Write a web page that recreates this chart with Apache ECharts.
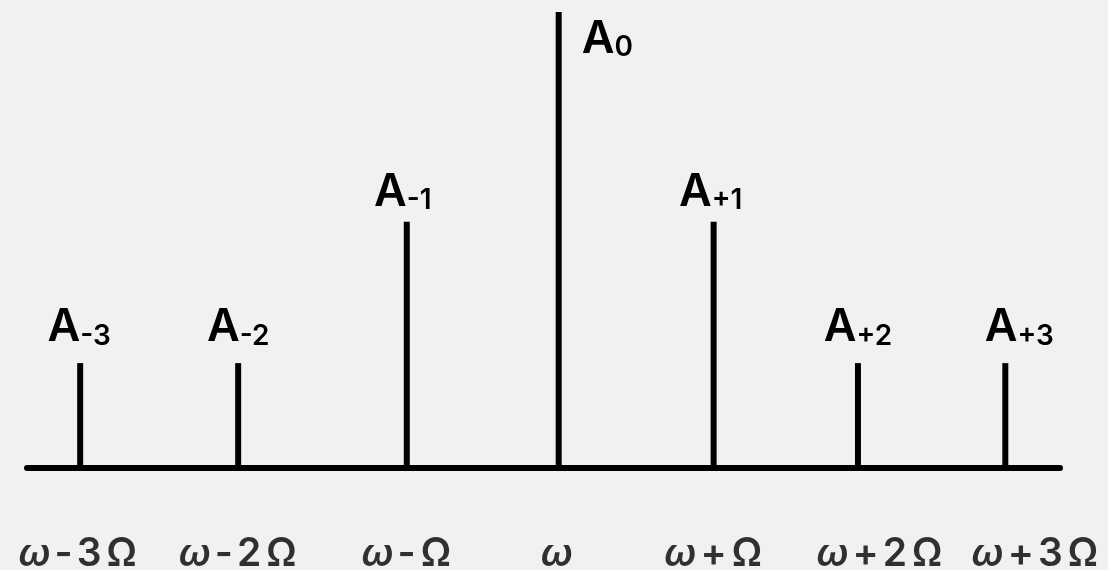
<!DOCTYPE html>
<html>
<head>
<meta charset="utf-8">
<title>Spectrum of a modulated carrier</title>
<script src="https://cdn.jsdelivr.net/npm/echarts@6/dist/echarts.min.js"></script>
<style>
  html, body { margin: 0; padding: 0; background: #f1f1f1; }
  #chart { width: 1108px; height: 570px; }
</style>
</head>
<body>
<div id="chart"></div>
<script>
// Side-band index of each spectral line
const sidebandIndex = ['-3', '-2', '-1', '0', '+1', '+2', '+3'];
// Frequency of each line, written as carrier ± multiples of the modulation frequency
const freqLabels = ['ω-3Ω', 'ω-2Ω', 'ω-Ω', 'ω', 'ω+Ω', 'ω+2Ω', 'ω+3Ω'];
// Offset of each line from the carrier, in units of Ω
const freqOffset = [-3.15, -2.11, -1.0, 0, 1.02, 1.97, 2.94];
// Relative amplitude of each line (carrier = 1)
const amplitude = [0.23, 0.23, 0.54, 1.0, 0.54, 0.23, 0.23];

// Small label nudges (px) so text does not crowd neighbouring lines
const ampLabelNudge = [[-1, 0], [0, 0], [-4, 6], [0, 0], [-3, 6], [0, 0], [14, 0]];
const freqLabelNudge = [-2, 0, 0, -2, 0, 22, 30];

const LATIN = 'Inter, "Liberation Sans", sans-serif';

// Split a frequency label into rich-text runs: italic ω, upright rest
function freqRich(s) {
  let out = '';
  for (const ch of s) {
    if (ch === 'ω') out += '{w|ω}';
    else if (ch === 'Ω') out += '{o|Ω}';
    else out += '{t|' + ch + '}';
  }
  return out;
}

const chart = echarts.init(document.getElementById('chart'), null, { renderer: 'canvas' });

const barData = freqOffset.map((x, i) => {
  const item = { value: [x, amplitude[i]] };
  if (sidebandIndex[i] === '0') {
    item.label = { position: [26, 5] };
  } else {
    item.label = { offset: ampLabelNudge[i] };
  }
  return item;
});

const baseData = freqOffset.map((x, i) => ({
  value: [x, 0],
  label: { offset: [freqLabelNudge[i], 0] }
}));

const freqFont = { fontFamily: LATIN, fontWeight: 600, fontSize: 39, lineHeight: 40, color: '#000', padding: [0, 2] };

chart.setOption({
  backgroundColor: '#f1f1f1',
  animation: false,
  grid: { left: 27, right: 48, top: 12, bottom: 102 },
  xAxis: {
    type: 'value',
    min: -3.5,
    max: 3.3,
    axisLine: { show: true, onZero: true, lineStyle: { color: '#000', width: 6 } },
    axisTick: { show: false },
    axisLabel: { show: false },
    splitLine: { show: false }
  },
  yAxis: {
    type: 'value',
    min: 0,
    max: 1,
    show: false,
    splitLine: { show: false }
  },
  series: [
    {
      name: 'amplitude',
      type: 'bar',
      barWidth: 6,
      itemStyle: { color: '#000' },
      data: barData,
      z: 3,
      label: {
        show: true,
        position: 'top',
        distance: 13,
        formatter: p => '{a|A}{s|' + sidebandIndex[p.dataIndex] + '}',
        rich: {
          a: { fontFamily: LATIN, fontWeight: 600, fontSize: 45, lineHeight: 45, color: '#000', verticalAlign: 'bottom' },
          s: { fontFamily: LATIN, fontWeight: 600, fontSize: 28, lineHeight: 28, color: '#000', verticalAlign: 'bottom' }
        }
      }
    },
    {
      name: 'frequency',
      type: 'scatter',
      symbolSize: 0,
      silent: true,
      data: baseData,
      label: {
        show: true,
        position: 'bottom',
        distance: 66,
        formatter: p => freqRich(freqLabels[p.dataIndex]),
        rich: {
          w: Object.assign({}, freqFont, { fontStyle: 'italic' }),
          o: Object.assign({}, freqFont, { padding: [0, 3] }),
          t: freqFont
        }
      }
    }
  ]
});
</script>
</body>
</html>
